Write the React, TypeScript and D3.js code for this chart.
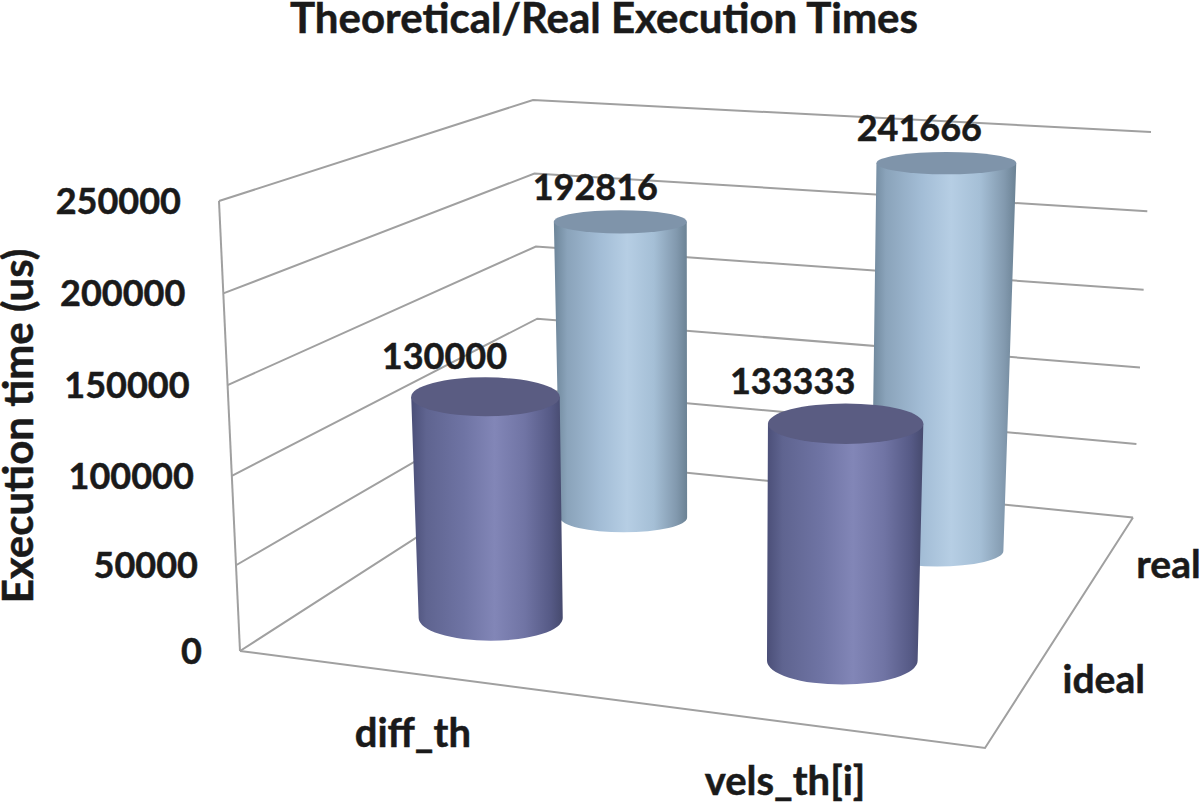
import React, { useEffect, useRef } from 'react';
import * as d3 from 'd3';

const categories = ['diff_th', 'vels_th[i]'];
const seriesNames = ['ideal', 'real'];
const idealValues = [130000, 133333];
const realValues = [192816, 241666];
const yTicks = [0, 50000, 100000, 150000, 200000, 250000];

const FONT = 'Lato, "Open Sans", sans-serif';
const INK = '#1a1a1a';
const GRID = '#a0a0a0';

type Pt = [number, number];

// unit square -> quad (front-left, front-right, back-right, back-left)
function quadMap(q: Pt[]) {
  const [[x0, y0], [x1, y1], [x2, y2], [x3, y3]] = q;
  const dx1 = x1 - x2, dx2 = x3 - x2, sx = x0 - x1 + x2 - x3;
  const dy1 = y1 - y2, dy2 = y3 - y2, sy = y0 - y1 + y2 - y3;
  const det = dx1 * dy2 - dx2 * dy1;
  const g = (sx * dy2 - dx2 * sy) / det;
  const h = (dx1 * sy - sx * dy1) / det;
  const a = x1 - x0 + g * x1, b = x3 - x0 + h * x3;
  const d = y1 - y0 + g * y1, e = y3 - y0 + h * y3;
  const fn = (u: number, v: number): Pt => {
    const w = g * u + h * v + 1;
    return [(a * u + b * v + x0) / w, (d * u + e * v + y0) / w];
  };
  fn.depth = (u: number, v: number) => g * u + h * v + 1;
  return fn;
}

const floor = quadMap([[240, 651], [985, 748], [1133, 517.5], [540, 458]]);
const ceiling = quadMap([[219, 201], [1001, 255], [1151, 132], [533, 100]]);

export default function App() {
  const svgRef = useRef<SVGSVGElement>(null);

  useEffect(() => {
    if (!svgRef.current) return;
    const svg = d3.select(svgRef.current);
    svg.selectAll('*').remove();

    const xBand = d3.scaleBand().domain(categories).range([0.005, 1.005]);
    const zBand = d3.scaleBand().domain(seriesNames).range([-0.02, 0.98]);
    const u = (c: string) => xBand(c)! + xBand.bandwidth() / 2;
    const v = (s: string) => zBand(s)! + zBand.bandwidth() / 2;
    // slight perspective stretch towards the top
    const y = d3.scalePow().exponent(1.03).domain([0, 250000]).range([0, 1]);

    const project = (uu: number, vv: number, val: number): Pt => {
      const [bx, by] = floor(uu, vv);
      const [tx, ty] = ceiling(uu, vv);
      const t = y(val);
      return [bx + (tx - bx) * t, by + (ty - by) * t];
    };
    const line = d3.line<Pt>();

    // walls
    const grid = svg.append('g').attr('fill', 'none').attr('stroke', GRID).attr('stroke-width', 2);
    yTicks.forEach(t => {
      grid.append('path').attr('d', line([project(0, 0, t), project(0, 1, t), project(1, 1, t)]));
    });
    grid.append('path').attr('d', line([project(0, 0, 0), project(0, 0, 250000)]));
    grid.append('path').attr('d', line([project(0, 0, 0), project(1, 0, 0), project(1, 1, 0)]));

    // cylinders
    const defs = svg.append('defs');
    const shades: Record<string, { stops: [number, string][]; top: string }> = {
      ideal: {
        stops: [[0, '#4b4f78'], [0.1, '#5f6490'], [0.35, '#6f74a4'], [0.55, '#8286b7'], [0.75, '#7074a4'], [0.92, '#565a86'], [1, '#464a6e']],
        top: '#5a5c82',
      },
      real: {
        stops: [[0, '#6d8599'], [0.1, '#8aa3ba'], [0.35, '#a3bdd6'], [0.55, '#b6cee4'], [0.75, '#a5bfd6'], [0.92, '#8299ae'], [1, '#6b8294']],
        top: '#7f94aa',
      },
    };
    seriesNames.forEach(s => {
      const grad = defs.append('linearGradient').attr('id', `side-${s}`);
      shades[s].stops.forEach(([o, c]) => grad.append('stop').attr('offset', o).attr('stop-color', c));
    });

    const tilt = d3.scaleLinear().domain([v('ideal'), v('real')]).range([0.315, 0.235]);
    const labelShift: Record<string, Pt[]> = {
      ideal: [[-41, -28], [-53, -30]],
      real: [[-25, -22], [-27, -22]],
    };

    const bars = seriesNames.flatMap(s =>
      categories.map((c, i) => ({ s, c, i, value: s === 'ideal' ? idealValues[i] : realValues[i] }))
    );
    // back row first so the front row covers it
    const order = [...bars].sort((a, b) => v(b.s) - v(a.s));

    const g = svg.append('g');
    order.forEach(b => {
      const uu = u(b.c), vv = v(b.s);
      const t = y(b.value);
      const [bx, by] = project(uu, vv, 0);
      const [tx, ty] = project(uu, vv, b.value);
      const rb = 75 / floor.depth(uu, vv);
      const rt = rb * (1 + 0.06 * t);
      const eb = rb * tilt(vv);
      const et = rt * tilt(vv) * (1 - 0.33 * t);
      g.append('path')
        .attr('fill', `url(#side-${b.s})`)
        .attr('d', `M${tx - rt},${ty}L${bx - rb},${by}A${rb},${eb} 0 0 0 ${bx + rb},${by}L${tx + rt},${ty}Z`);
      g.append('ellipse')
        .attr('cx', tx).attr('cy', ty).attr('rx', rt).attr('ry', et)
        .attr('fill', shades[b.s].top);
    });

    const text = (x: number, yy: number, str: string, anchor: string, size = 36) =>
      svg.append('text')
        .attr('x', x).attr('y', yy)
        .attr('text-anchor', anchor)
        .attr('font-family', FONT).attr('font-weight', 700).attr('font-size', size)
        .attr('fill', INK).attr('stroke', INK).attr('stroke-width', 0.5)
        .text(str);

    // value labels
    bars.forEach(b => {
      const [tx, ty] = project(u(b.c), v(b.s), b.value);
      const [dx, dy] = labelShift[b.s][b.i];
      text(tx + dx, ty + dy, String(b.value), 'middle');
    });

    // axes
    yTicks.forEach(t => {
      const [px, py] = project(0, 0, t);
      text(px - 38, py + 13, String(t), 'end');
    });
    categories.forEach(c => {
      const [px, py] = project(u(c), 0, 0);
      text(px - 4, py + 73, c, 'middle', 40);
    });
    seriesNames.forEach(s => {
      const [px, py] = project(1, v(s), 0);
      text(px + 36, py + 10, s, 'start', 39);
    });

    text(604, 33, 'Theoretical/Real Execution Times', 'middle', 42);
    text(0, 0, 'Execution time (us)', 'middle', 42)
      .attr('transform', 'translate(33,426) rotate(-90)');
  }, []);

  return (
    <svg
      ref={svgRef}
      width={1200}
      height={806}
      style={{ position: 'absolute', left: 0, top: 0, background: '#fff' }}
    />
  );
}
